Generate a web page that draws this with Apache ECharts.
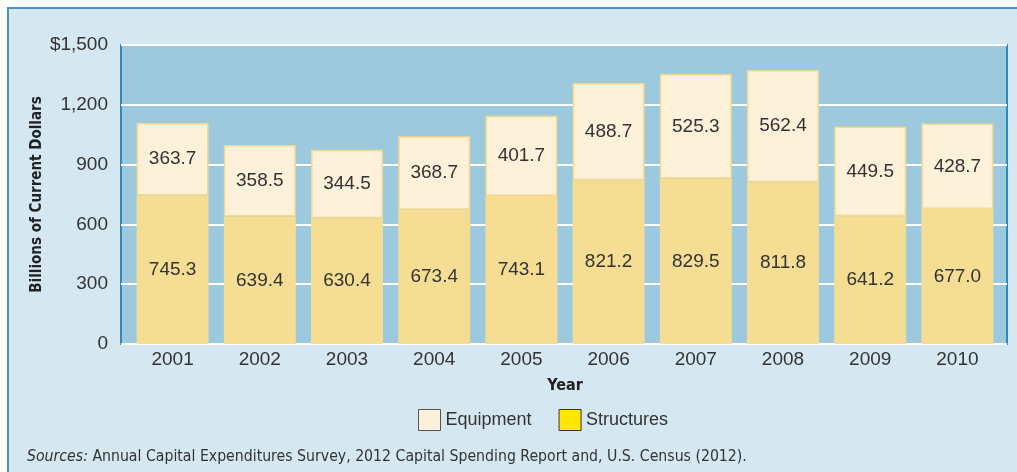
<!DOCTYPE html>
<html>
<head>
<meta charset="utf-8">
<script src="https://cdn.jsdelivr.net/npm/echarts@6/dist/echarts.min.js"></script>
<style>
html,body{margin:0;padding:0;background:#fff;}
#chart{width:1017px;height:472px;}
</style>
</head>
<body>
<div id="chart"></div>
<script>
const years = ['2001','2002','2003','2004','2005','2006','2007','2008','2009','2010'];
const structures = [745.3, 639.4, 630.4, 673.4, 743.1, 821.2, 829.5, 811.8, 641.2, 677.0];
const equipment = [363.7, 358.5, 344.5, 368.7, 401.7, 488.7, 525.3, 562.4, 449.5, 428.7];
const yTicks = {min: 0, max: 1500, interval: 300};

const FONT = "'Liberation Sans', Arial, sans-serif";
const NARROW = "'Liberation Sans Narrow', 'DejaVu Sans Condensed', 'Liberation Sans', sans-serif";

const chart = echarts.init(document.getElementById('chart'), null, {renderer: 'canvas'});
chart.setOption({
  backgroundColor: '#ffffff',
  animation: false,
  graphic: [
    {type: 'rect', z: -100, silent: true,
     shape: {x: 8, y: 8, width: 1020, height: 480},
     style: {fill: '#d5e7f1', stroke: '#3e97c4', lineWidth: 2}},
    {type: 'text', left: 27, top: 449, silent: true,
     style: {
       text: '{i|Sources:} Annual Capital Expenditures Survey, 2012 Capital Spending Report and, U.S. Census (2012).',
       font: '15.7px ' + NARROW, fill: '#333',
       rich: {i: {fontStyle: 'italic', fontSize: 15.7, fontFamily: NARROW, fill: '#333'}}
     }}
  ],
  grid: [
    {left: 121, right: 10, top: 45, bottom: 128, show: true,
     backgroundColor: '#9dc9df', borderColor: '#2e8bb9', borderWidth: 2},
    {left: 129, right: 16, top: 45, bottom: 128, show: false}
  ],
  legend: {
    top: 409, left: 418, padding: 0, itemWidth: 22, itemHeight: 21, itemGap: 27,
    icon: 'rect',
    textStyle: {fontFamily: FONT, fontSize: 18, color: '#333'},
    data: [
      {name: 'Equipment', itemStyle: {color: '#fdf0db', borderColor: '#555', borderWidth: 1}},
      {name: 'Structures', itemStyle: {color: '#ffe600', borderColor: '#333', borderWidth: 1}}
    ]
  },
  xAxis: [
    {type: 'category', gridIndex: 0, data: years, show: false},
    {type: 'category', gridIndex: 1, data: years,
     name: 'Year', nameLocation: 'middle', nameGap: 34,
     nameTextStyle: {fontFamily: NARROW, fontWeight: 'bold', fontSize: 16, color: '#222'},
     axisLine: {show: false}, axisTick: {show: false},
     axisLabel: {fontFamily: FONT, fontSize: 19, color: '#333', margin: 6}}
  ],
  yAxis: [
    {type: 'value', gridIndex: 0, min: yTicks.min, max: yTicks.max, interval: yTicks.interval,
     name: 'Billions of Current Dollars', nameLocation: 'middle', nameGap: 76, nameRotate: 90,
     nameMoveOverlap: false,
     nameTextStyle: {fontFamily: NARROW, fontWeight: 'bold', fontSize: 15, color: '#222'},
     axisLine: {show: false}, axisTick: {show: false},
     splitLine: {show: true, lineStyle: {color: '#ffffff', width: 2}},
     axisLabel: {fontFamily: FONT, fontSize: 19, color: '#333', margin: 13,
       formatter: v => (v === yTicks.max ? '$' : '') + v.toLocaleString('en-US')}},
    {type: 'value', gridIndex: 1, min: yTicks.min, max: yTicks.max, interval: yTicks.interval,
     show: false, splitLine: {show: false}}
  ],
  series: [
    {name: 'Structures', type: 'bar', stack: 'total', xAxisIndex: 1, yAxisIndex: 1,
     data: structures, barWidth: '82.5%',
     itemStyle: {color: '#f5dd94'},
     label: {show: true, position: 'inside', fontFamily: FONT, fontSize: 19, color: '#333',
             formatter: p => p.value.toFixed(1)}},
    {name: 'Equipment', type: 'bar', stack: 'total', xAxisIndex: 1, yAxisIndex: 1,
     data: equipment, barWidth: '82.5%',
     itemStyle: {color: '#fdf1da', borderColor: '#f4d98e', borderWidth: 1.5},
     label: {show: true, position: 'inside', fontFamily: FONT, fontSize: 19, color: '#333',
             formatter: p => p.value.toFixed(1)}}
  ]
});
</script>
</body>
</html>
